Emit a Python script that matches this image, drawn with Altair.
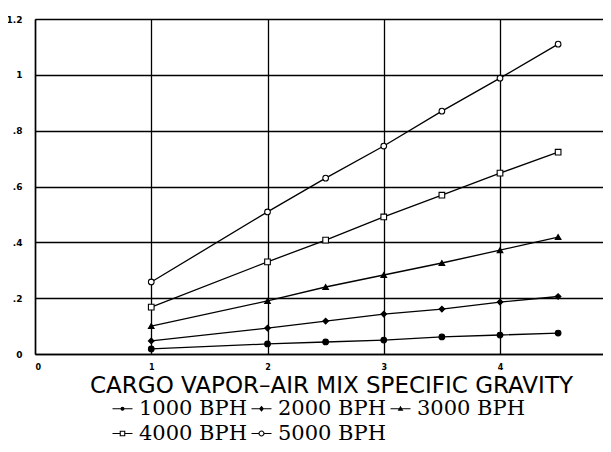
import altair as alt
import pandas as pd

series_names = ["1000 BPH", "2000 BPH", "3000 BPH", "4000 BPH", "5000 BPH"]
x_vals = [1, 2, 2.5, 3, 3.5, 4, 4.5]
y_1000 = [0.018, 0.036, 0.043, 0.050, 0.061, 0.068, 0.075]
y_2000 = [0.047, 0.093, 0.118, 0.143, 0.161, 0.186, 0.206]
y_3000 = [0.100, 0.190, 0.240, 0.283, 0.326, 0.372, 0.419]
y_4000 = [0.168, 0.330, 0.408, 0.491, 0.569, 0.648, 0.723]
y_5000 = [0.258, 0.509, 0.630, 0.745, 0.870, 0.988, 1.110]

x_ticks = [0, 1, 2, 3, 4]
y_ticks = [0, 0.2, 0.4, 0.6, 0.8, 1.0, 1.2]
x_title = "CARGO VAPOR–AIR MIX SPECIFIC GRAVITY"

rows = []
for name, ys in zip(series_names, [y_1000, y_2000, y_3000, y_4000, y_5000]):
    for xv, yv in zip(x_vals, ys):
        rows.append({"x": xv, "y": yv, "series": name})
df = pd.DataFrame(rows)

plot_shapes = ["circle", "diamond", "triangle-up", "square", "circle"]
plot_fills = ["black", "black", "black", "white", "white"]

line_l = "M-1,-0.06H-0.28V0.06H-1Z"
line_r = "M0.28,-0.06H1V0.06H0.28Z"
line_full = "M-1,-0.06H1V0.06H-1Z"
legend_paths = [
    line_full + "M-0.2,0A0.2,0.2 0 1,1 0.2,0A0.2,0.2 0 1,1 -0.2,0Z",
    line_full + "M0,-0.3L0.25,0L0,0.3L-0.25,0Z",
    line_full + "M0,-0.3L0.28,0.2H-0.28Z",
    line_l + line_r + "M-0.28,-0.28H0.28V0.28H-0.28Z" + "M-0.17,-0.17V0.17H0.17V-0.17Z",
    line_l + line_r + "M-0.3,0A0.3,0.3 0 1,1 0.3,0A0.3,0.3 0 1,1 -0.3,0Z"
    + "M-0.19,0A0.19,0.19 0 1,0 0.19,0A0.19,0.19 0 1,0 -0.19,0Z",
]

x_enc = alt.X(
    "x:Q",
    scale=alt.Scale(domain=[0, 4.886], nice=False),
    axis=alt.Axis(
        values=x_ticks, grid=True, ticks=False, domain=True, format="d",
        labelFontSize=8, labelFont="DejaVu Sans", labelFontWeight="bold",
        labelPadding=9, labelColor="black",
        title=x_title, titleFont="DejaVu Sans", titleFontSize=23,
        titleFontWeight="normal", titleColor="black",
        titleX=296, titleY=38, titleBaseline="alphabetic", titleAlign="center",
    ),
)
y_enc = alt.Y(
    "y:Q",
    scale=alt.Scale(domain=[0, 1.2], nice=False),
    axis=alt.Axis(
        values=y_ticks, grid=True, ticks=False, domain=True,
        labelFontSize=9, labelFont="DejaVu Sans", labelFontWeight="bold",
        labelPadding=13, labelColor="black",
        labelExpr="replace(format(datum.value, '.1~f'), '0.', '.')",
        title=None,
    ),
)

lines = alt.Chart(df).mark_line(color="black", strokeWidth=1.3).encode(
    x=x_enc, y=y_enc, detail="series:N"
)

points = alt.Chart(df).mark_point(filled=True, stroke="black", strokeWidth=1.1, size=32, opacity=1).encode(
    x="x:Q",
    y="y:Q",
    shape=alt.Shape("series:N", scale=alt.Scale(domain=series_names, range=plot_shapes), legend=None),
    fill=alt.Fill("series:N", scale=alt.Scale(domain=series_names, range=plot_fills), legend=None),
)

legend_layer = alt.Chart(df).mark_point(filled=True, color="black", opacity=0).encode(
    x="x:Q",
    y="y:Q",
    shape=alt.Shape(
        "series:N",
        scale=alt.Scale(domain=series_names, range=legend_paths),
        legend=alt.Legend(
            title=None, orient="none", legendX=77, legendY=379,
            columns=3, direction="horizontal",
            labelFont="DejaVu Serif", labelFontSize=21, labelColor="black",
            labelOffset=6, symbolSize=400, symbolOpacity=1,
            symbolFillColor="black", symbolStrokeWidth=0,
            columnPadding=4, rowPadding=3, padding=0,
        ),
    ),
)

chart = (
    alt.layer(lines, points, legend_layer)
    .resolve_scale(shape="independent", fill="independent")
    .properties(
        width=568, height=335,
        autosize=alt.AutoSizeParams(type="none"),
        padding={"left": 27, "top": 11, "right": 0, "bottom": 91},
        background="white",
    )
    .configure_axis(gridColor="black", gridWidth=1.3, gridOpacity=1,
                    domainColor="black", domainWidth=1.5)
    .configure_view(stroke=None)
)

chart.save("out.html", embed_options={"renderer": "svg", "actions": False})
